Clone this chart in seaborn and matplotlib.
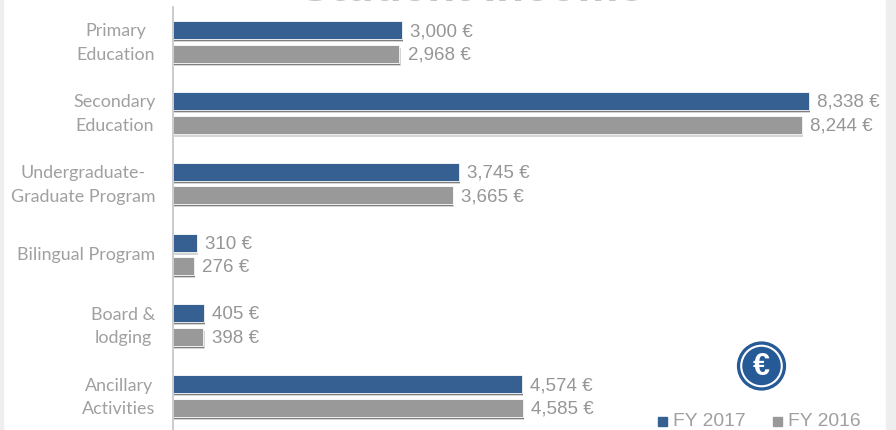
import numpy as np
import pandas as pd
import seaborn as sns
import matplotlib.pyplot as plt
import matplotlib.patheffects as pe
from matplotlib.patches import Circle, Rectangle
from matplotlib.transforms import ScaledTranslation

categories = ['Primary\nEducation', 'Secondary\nEducation', 'Undergraduate-\nGraduate Program',
              'Bilingual Program', 'Board &\nlodging', 'Ancillary\nActivities']
fy_2017 = [3000, 8338, 3745, 310, 405, 4574]
fy_2016 = [2968, 8244, 3665, 276, 398, 4585]
series_names = ['FY 2017', 'FY 2016']

W, H = 896, 430
BLUE = '#376092'
GREY = '#999999'
TEXT = '#a0a0a0'

df = pd.DataFrame({'category': categories * 2,
                   'series': [series_names[0]] * 6 + [series_names[1]] * 6,
                   'value': fy_2017 + fy_2016})

sns.set_style("white")
plt.rcParams['font.family'] = ['Liberation Sans', 'DejaVu Sans']

fig = plt.figure(figsize=(W / 100, H / 100), dpi=100)
ax = fig.add_axes([173 / W, 0, (886 - 173) / W, (H - 7) / H])

sns.barplot(data=df, y='category', x='value', hue='series', orient='h', ax=ax,
            palette=[BLUE, GREY], saturation=1, width=0.664, gap=0.235, legend=False,
            edgecolor='white', linewidth=0.6)

# soft shadow under the bars
for p in ax.patches:
    p.set_path_effects([pe.withSimplePatchShadow(offset=(1.0, -2.2), shadow_rgbFace='#888888', alpha=0.35),
                        pe.SimplePatchShadow(offset=(0.6, -1.3), shadow_rgbFace='#444444', alpha=0.6),
                        pe.Normal()])

ax.set_xlim(0, 713 / 0.07628)
ax.set_ylim(5.48, -0.494)
ax.xaxis.set_visible(False)
ax.set_ylabel('')
ax.tick_params(axis='y', length=0, pad=12.7)
for lab in ax.get_yticklabels():
    lab.set_fontfamily(['Lato', 'DejaVu Sans'])
    lab.set_fontsize(12.9)
    lab.set_color(TEXT)
    lab.set_linespacing(1.57)
    lab.set_multialignment('center')
    # two line labels sit a little higher than the single line one
    up = 4 if '\n' in lab.get_text() else 0.5
    lab.set_transform(lab.get_transform() + ScaledTranslation(0, up / 100, fig.dpi_scale_trans))

sns.despine(ax=ax, left=False, bottom=True)
ax.spines['left'].set_color('#c4c4c4')
ax.spines['left'].set_linewidth(1.2)

for container, vals in zip(ax.containers, [fy_2017, fy_2016]):
    texts = ax.bar_label(container, labels=[f'{v:,} €' for v in vals], padding=6,
                         fontsize=13.5, color='#969696')
    for t in texts:
        t.xyann = (t.xyann[0], -1)

# title cut off by the top edge
fig.text(472 / W, 1 - 0.6 / H, 'Student Income', ha='center', va='baseline', fontsize=33,
         fontweight='bold', color='#c4c4c4')

# grey strips of the screenshot
fig.add_artist(Rectangle((0, 0), 3 / W, 1, transform=fig.transFigure, color='#eeeeee', zorder=5))
fig.add_artist(Rectangle((886 / W, 0), 10 / W, 1, transform=fig.transFigure, color='#eeeeee', zorder=5))

# euro badge
badge = fig.add_axes([735.5 / W, 1 - 392 / H, 52 / W, 52 / H])
badge.set_xlim(-1, 1)
badge.set_ylim(-1, 1)
badge.set_aspect('equal')
badge.axis('off')
badge.add_patch(Circle((0, 0), 0.92, color='#265a96'))
badge.add_patch(Circle((0, 0), 0.78, fill=False, ec='white', lw=1.5))
badge.text(0, -0.02, '€', color='white', fontsize=22, fontweight='bold', ha='center', va='center')

# legend
fig.add_artist(Rectangle((658 / W, 1 - 426 / H), 9 / W, 9 / H, transform=fig.transFigure, color=BLUE))
fig.text(673 / W, 1 - 421.5 / H, series_names[0], fontsize=13.9, color=TEXT, va='center')
fig.add_artist(Rectangle((773 / W, 1 - 426 / H), 9 / W, 9 / H, transform=fig.transFigure, color=GREY))
fig.text(788 / W, 1 - 421.5 / H, series_names[1], fontsize=13.9, color=TEXT, va='center')

fig.savefig('out.png', dpi=100)
